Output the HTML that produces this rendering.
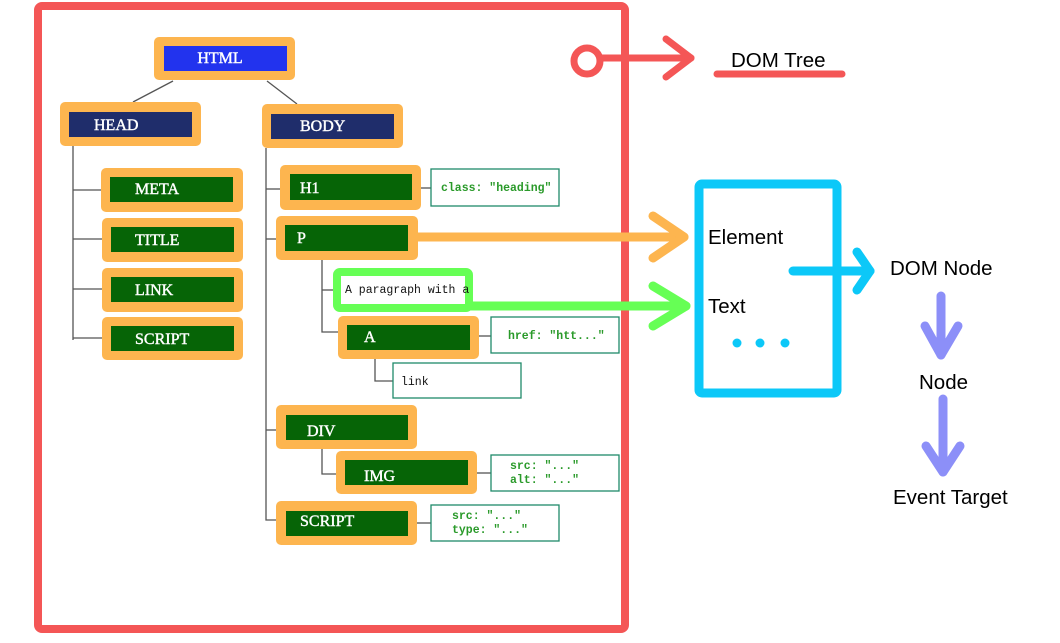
<!DOCTYPE html>
<html><head><meta charset="utf-8"><style>
html,body{margin:0;padding:0;background:#fff;width:1060px;height:643px;overflow:hidden}
svg{display:block}
.n{font-family:"Liberation Serif",serif;font-size:16px;fill:#fff;stroke:#fff;stroke-width:0.4}
.m{font-family:"Liberation Mono",monospace;font-size:11.5px;font-weight:bold}
.k{font-family:"Liberation Mono",monospace;font-size:11.5px;fill:#111}
.s{font-family:"Liberation Sans",sans-serif;font-size:20.5px;fill:#000}
</style></head><body>
<svg width="1060" height="643" viewBox="0 0 1060 643" xmlns="http://www.w3.org/2000/svg">
<g stroke="#555" stroke-width="1.3" fill="none">
<line x1="173" y1="81" x2="133" y2="102"/>
<line x1="267" y1="81" x2="297" y2="104"/>
<polyline points="73,146 73,340"/>
<line x1="73" y1="190" x2="102" y2="190"/>
<line x1="73" y1="239" x2="102" y2="239"/>
<line x1="73" y1="289" x2="102" y2="289"/>
<line x1="73" y1="338" x2="102" y2="338"/>
<polyline points="266,148 266,520 276,520"/>
<line x1="266" y1="189" x2="280" y2="189"/>
<line x1="266" y1="239" x2="276" y2="239"/>
<line x1="266" y1="430" x2="276" y2="430"/>
<polyline points="322,260 322,332 338,332"/>
<line x1="322" y1="290" x2="333" y2="290"/>
<polyline points="375,359 375,381 393,381"/>
<polyline points="322,449 322,474 336,474"/>
<line x1="421" y1="188" x2="431" y2="188"/>
<line x1="479" y1="336" x2="491" y2="336"/>
<line x1="477" y1="473" x2="491" y2="473"/>
<line x1="417" y1="523" x2="431" y2="523"/>
</g>
<g>
<rect x="154" y="37" width="141" height="43" rx="5" fill="#fdb54f"/><rect x="164" y="46" width="123" height="25" fill="#2233ee"/><text class="n" x="220" y="63" text-anchor="middle">HTML</text>
<rect x="60" y="102" width="141" height="44" rx="5" fill="#fdb54f"/><rect x="69" y="112" width="123" height="25" fill="#1f2d6b"/><text class="n" x="94" y="130">HEAD</text>
<rect x="262" y="104" width="141" height="44" rx="5" fill="#fdb54f"/><rect x="271" y="114" width="123" height="25" fill="#1f2d6b"/><text class="n" x="300" y="131">BODY</text>
<rect x="101" y="168" width="142" height="44" rx="5" fill="#fdb54f"/><rect x="110" y="177" width="123" height="25" fill="#066406"/><text class="n" x="135" y="194">META</text>
<rect x="102" y="218" width="141" height="44" rx="5" fill="#fdb54f"/><rect x="111" y="227" width="123" height="25" fill="#066406"/><text class="n" x="135" y="245">TITLE</text>
<rect x="102" y="268" width="141" height="44" rx="5" fill="#fdb54f"/><rect x="111" y="277" width="123" height="25" fill="#066406"/><text class="n" x="135" y="295">LINK</text>
<rect x="102" y="317" width="141" height="43" rx="5" fill="#fdb54f"/><rect x="111" y="326" width="123" height="25" fill="#066406"/><text class="n" x="135" y="344">SCRIPT</text>
<rect x="280" y="165" width="141" height="45" rx="5" fill="#fdb54f"/><rect x="290" y="174" width="122" height="26" fill="#066406"/><text class="n" x="300" y="193">H1</text>
<rect x="276" y="216" width="142" height="44" rx="5" fill="#fdb54f"/><rect x="285" y="225" width="123" height="26" fill="#066406"/><text class="n" x="297" y="243">P</text>
<rect x="338" y="316" width="141" height="43" rx="5" fill="#fdb54f"/><rect x="347" y="325" width="123" height="25" fill="#066406"/><text class="n" x="364" y="342">A</text>
<rect x="276" y="405" width="141" height="44" rx="5" fill="#fdb54f"/><rect x="286" y="415" width="122" height="25" fill="#066406"/><text class="n" x="307" y="436">DIV</text>
<rect x="336" y="451" width="141" height="43" rx="5" fill="#fdb54f"/><rect x="345" y="460" width="123" height="25" fill="#066406"/><text class="n" x="364" y="481">IMG</text>
<rect x="276" y="501" width="141" height="44" rx="5" fill="#fdb54f"/><rect x="286" y="511" width="122" height="25" fill="#066406"/><text class="n" x="300" y="526">SCRIPT</text>
</g>
<g fill="#fff" stroke="#1f8a6a" stroke-width="1.3">
<rect x="431" y="169" width="128" height="37"/>
<rect x="491" y="317" width="128" height="36"/>
<rect x="393" y="363" width="128" height="35"/>
<rect x="491" y="455" width="128" height="36"/>
<rect x="431" y="505" width="128" height="36"/>
</g>
<g class="m" fill="#2a9a2a">
<text x="441" y="191">class: "heading"</text>
<text x="508" y="339">href: "htt..."</text>
<text x="510" y="469">src: "..."</text><text x="510" y="483">alt: "..."</text>
<text x="452" y="519">src: "..."</text><text x="452" y="533">type: "..."</text>
</g>
<text class="k" x="401" y="385">link</text>
<rect x="337" y="272" width="132" height="36" rx="3" fill="#fff" stroke="#66ff55" stroke-width="8"/>
<text class="k" x="345" y="293">A paragraph with a</text>
<rect x="38" y="6" width="587" height="623" rx="4" fill="none" stroke="#f45656" stroke-width="8"/>
<g stroke="#f45656" stroke-width="7" fill="none" stroke-linecap="round" stroke-linejoin="round">
<circle cx="587" cy="61" r="13"/>
<line x1="600" y1="58" x2="691" y2="58"/>
<polyline points="666,39 691,58 666,77"/>
<line x1="717" y1="74" x2="842" y2="74"/>
</g>
<text class="s" x="731" y="67">DOM Tree</text>
<g fill="none" stroke-linecap="round" stroke-linejoin="round" stroke-width="9">
<line x1="418" y1="237" x2="684" y2="237" stroke="#fdb54f"/>
<polyline points="653,216 684,237 653,258" stroke="#fdb54f"/>
<line x1="470" y1="306" x2="686" y2="306" stroke="#66ff55"/>
<polyline points="653,286 686,306 653,326" stroke="#66ff55"/>
</g>
<rect x="699" y="184" width="138" height="209" rx="3" fill="none" stroke="#0cc8f8" stroke-width="9"/>
<text class="s" x="708" y="244">Element</text>
<text class="s" x="708" y="313">Text</text>
<g fill="#0cc8f8"><circle cx="737" cy="343" r="4.5"/><circle cx="760" cy="343" r="4.5"/><circle cx="785" cy="343" r="4.5"/></g>
<g fill="none" stroke="#0cc8f8" stroke-width="9" stroke-linecap="round" stroke-linejoin="round">
<line x1="793" y1="271" x2="870" y2="271"/>
<polyline points="857,252 870,271 857,290"/>
</g>
<text class="s" x="890" y="275">DOM Node</text>
<g fill="none" stroke="#8c8ff8" stroke-width="9" stroke-linecap="round" stroke-linejoin="round">
<line x1="941" y1="296" x2="941" y2="355"/>
<polyline points="925,326 941,355 958,326"/>
<line x1="943" y1="399" x2="943" y2="472"/>
<polyline points="926,446 943,472 960,446"/>
</g>
<text class="s" x="919" y="389">Node</text>
<text class="s" x="893" y="504">Event Target</text>
</svg>
</body></html>
